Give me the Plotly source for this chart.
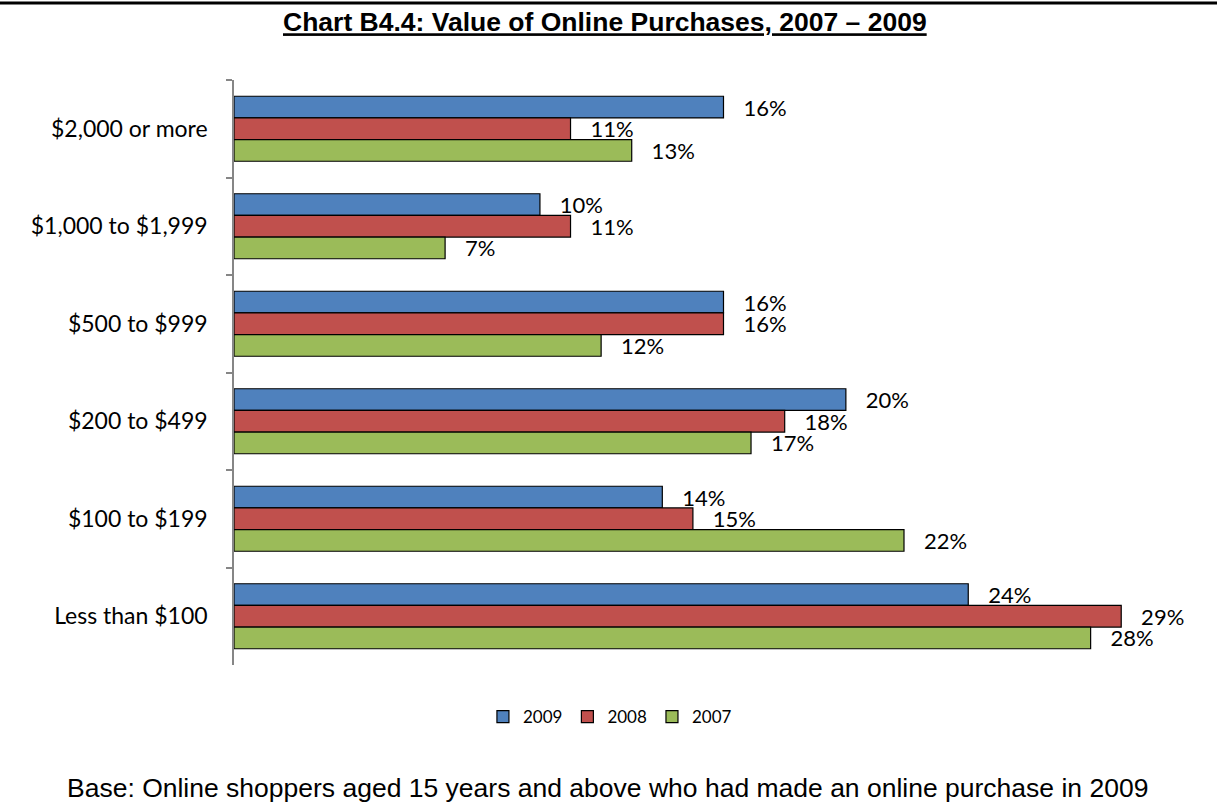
import plotly.graph_objects as go

categories = ["$2,000 or more", "$1,000 to $1,999", "$500 to $999",
              "$200 to $499", "$100 to $199", "Less than $100"]
v2009 = [16, 10, 16, 20, 14, 24]
v2008 = [11, 11, 16, 18, 15, 29]
v2007 = [13, 6.9, 12, 16.9, 21.9, 28]
lab2009 = ["16%", "10%", "16%", "20%", "14%", "24%"]
lab2008 = ["11%", "11%", "16%", "18%", "15%", "29%"]
lab2007 = ["13%", "7%", "12%", "17%", "22%", "28%"]
series = [("2009", v2009, lab2009, "#4F81BD"),
          ("2008", v2008, lab2008, "#C0504D"),
          ("2007", v2007, lab2007, "#9BBB59")]

LABEL_FONT = "Lato, 'Open Sans', sans-serif"
ARIAL = "Liberation Sans, Arial, sans-serif"
PAD = "\u00a0\u00a0\u00a0"

fig = go.Figure()
for name, vals, labs, col in series:
    fig.add_trace(go.Bar(
        name=name, y=categories, x=vals, orientation="h",
        marker=dict(color=col, line=dict(color="#000000", width=1.2)),
        text=[PAD + t for t in labs], textposition="outside",
        textfont=dict(family=LABEL_FONT, size=22, color="#000000"),
        constraintext="none", cliponaxis=False,
    ))

fig.update_layout(
    width=1217, height=805,
    margin=dict(l=234, r=4, t=80, b=140),
    paper_bgcolor="white", plot_bgcolor="white",
    barmode="group", bargap=0.333, bargroupgap=0,
    title=dict(
        text="<b><u>Chart B4.4: Value of Online Purchases, 2007 – 2009</u></b>",
        font=dict(family=ARIAL, size=26.5, color="#000000"),
        x=0.497, xanchor="center", xref="container",
        y=1 - 22 / 805, yanchor="middle", yref="container",
    ),
    xaxis=dict(range=[0, 32], visible=False, showgrid=False, zeroline=False),
    yaxis=dict(
        autorange="reversed", showline=True, linecolor="#868686", linewidth=1.5,
        ticks="outside", tickson="boundaries", ticklen=6, tickcolor="#868686",
        tickwidth=1.5, ticklabelstandoff=20,
        tickfont=dict(family=LABEL_FONT, size=23, color="#000000"),
        showgrid=False, zeroline=False,
    ),
    legend=dict(
        orientation="h", x=0.384, xanchor="center", y=-0.089, yanchor="middle",
        font=dict(family=LABEL_FONT, size=17, color="#000000"),
        bgcolor="rgba(0,0,0,0)",
    ),
    showlegend=True,
)

fig.add_annotation(
    text="Base: Online shoppers aged 15 years and above who had made an online purchase in 2009",
    xref="paper", yref="paper", x=(607 - 234) / 979, y=-(788 - 665) / 585,
    xanchor="center", yanchor="middle", showarrow=False,
    font=dict(family=ARIAL, size=26.5, color="#000000"),
)

fig.add_shape(
    type="line", xref="paper", yref="paper",
    x0=-234 / 979, x1=1 + 4 / 979, y0=1 + 77 / 585, y1=1 + 77 / 585,
    line=dict(color="#000000", width=3),
)

fig.write_html("out.html", config={"displayModeBar": False},
               post_script="document.body.style.margin='0';")
